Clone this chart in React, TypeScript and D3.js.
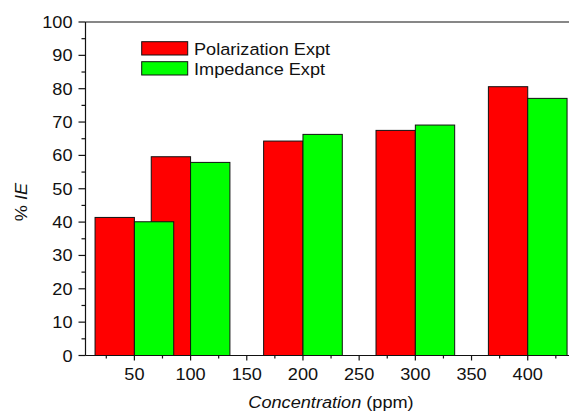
import React from "react";
import * as d3 from "d3";

// concentrations (ppm) and inhibition efficiency values
const concentrations = [50, 100, 200, 300, 400];
const polarization = [41.4, 59.6, 64.3, 67.5, 80.6];
const impedance = [40.1, 57.9, 66.3, 69.1, 77.1];
const seriesNames = ["Polarization Expt", "Impedance Expt"];
const seriesColors = ["#ff0000", "#00ff00"];
const xTicks = [50, 100, 150, 200, 250, 300, 350, 400];
const yTicks = [0, 10, 20, 30, 40, 50, 60, 70, 80, 90, 100];

const W = 569;
const H = 412;
const left = 85.5;
const top = 22;
const bottom = 355.5;
const font = "'Liberation Sans', Arial, sans-serif";
const barW = 35; // bar width in ppm units

// Origin-style text is a bit stretched horizontally
const T = (p: { x: number; y: number; anchor?: string; rot?: number; children: any }) => (
  <g transform={`translate(${p.x},${p.y}) rotate(${p.rot || 0}) scale(1.1,1)`}>
    <text x={0} y={0} textAnchor={p.anchor || "start"} fontFamily={font} fontSize={16.5} fill="#111">
      {p.children}
    </text>
  </g>
);

const App = () => {
  const x = d3.scaleLinear().domain([6.5, 445]).range([left, 578.3]);
  const y = d3.scaleLinear().domain([0, 100]).range([bottom, top]);
  const series = [polarization, impedance];
  const xMinor = d3.range(25, 450, 50);
  const yMinor = d3.range(5, 100, 10);

  return (
    <svg width={W} height={H} style={{ position: "absolute", left: 0, top: 0, background: "#fff" }}>
      {/* bars: red series first, green drawn over */}
      {series.map((vals, si) =>
        vals.map((v, i) => {
          const c = concentrations[i];
          const x0 = si === 0 ? x(c - barW) : x(c);
          const x1 = si === 0 ? x(c) : x(c + barW);
          return (
            <rect
              key={`${si}-${i}`}
              x={x0}
              y={y(v)}
              width={x1 - x0}
              height={y(0) - y(v)}
              fill={seriesColors[si]}
              stroke="#111"
              strokeWidth={1}
            />
          );
        })
      )}

      {/* frame */}
      <line x1={left} x2={W + 5} y1={top} y2={top} stroke="#111" strokeWidth={1.2} />
      <line x1={left} x2={W + 5} y1={bottom} y2={bottom} stroke="#111" strokeWidth={1.2} />
      <line x1={left} x2={left} y1={top} y2={bottom} stroke="#111" strokeWidth={1.2} />

      {/* y ticks */}
      {yTicks.map((t) => (
        <g key={`y${t}`}>
          <line x1={left - 7} x2={left} y1={y(t)} y2={y(t)} stroke="#111" strokeWidth={1.2} />
          <T x={72.5} y={y(t) + 6} anchor="end">{t}</T>
        </g>
      ))}
      {yMinor.map((t) => (
        <line key={`ym${t}`} x1={left - 4} x2={left} y1={y(t)} y2={y(t)} stroke="#111" strokeWidth={1.2} />
      ))}

      {/* x ticks */}
      {xTicks.map((t) => (
        <g key={`x${t}`}>
          <line x1={x(t)} x2={x(t)} y1={bottom} y2={bottom + 5} stroke="#111" strokeWidth={1.2} />
          <T x={x(t)} y={380} anchor="middle">{t}</T>
        </g>
      ))}
      {xMinor.map((t) => (
        <line key={`xm${t}`} x1={x(t)} x2={x(t)} y1={bottom} y2={bottom + 3} stroke="#111" strokeWidth={1.2} />
      ))}

      {/* axis titles */}
      <T x={331} y={408} anchor="middle">
        <tspan fontStyle="italic">Concentration</tspan> (ppm)
      </T>
      <T x={27} y={202} anchor="middle" rot={-90}>
        % <tspan fontStyle="italic">IE</tspan>
      </T>

      {/* legend */}
      {seriesNames.map((name, i) => (
        <g key={name}>
          <rect x={141.7} y={41.7 + i * 20} width={46} height={13.3} fill={seriesColors[i]} stroke="#111" strokeWidth={1} />
          <T x={194} y={55 + i * 19.5}>{name}</T>
        </g>
      ))}
    </svg>
  );
};

export default App;
